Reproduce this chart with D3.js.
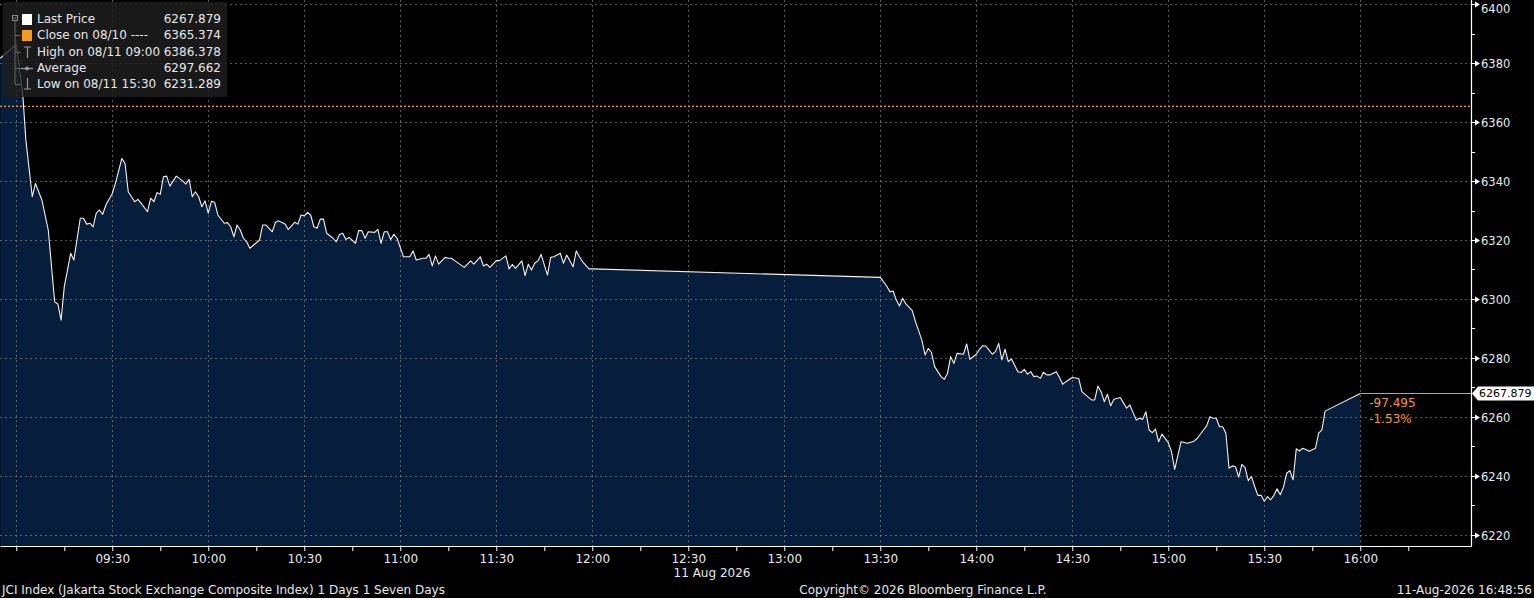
<!DOCTYPE html>
<html><head><meta charset="utf-8">
<script src="https://cdn.jsdelivr.net/npm/d3@7"></script>
<style>html,body{margin:0;padding:0;background:#000;overflow:hidden}svg{display:block}text{font-family:"DejaVu Sans",Verdana,sans-serif}</style>
</head><body>
<svg id="chart" width="1534" height="598"></svg>
<script>
// ---------- DATA ----------
const times = ["08:55","09:00","09:02","09:03","09:05","09:06","09:08","09:10","09:12","09:13","09:14","09:15","09:17","09:18",
"09:20","09:21","09:22","09:23","09:24","09:25","09:26","09:27","09:28","09:30","09:31","09:33","09:34","09:35","09:37","09:38","09:39",
"09:41","09:42","09:43","09:44","09:45","09:46","09:47","09:48","09:50","09:52","09:53","09:54","09:55","09:56","09:57","09:58","09:59",
"10:00","10:01","10:02","10:03","10:05","10:06","10:07","10:08","10:09","10:10","10:11","10:12","10:13","10:16","10:17","10:18","10:20",
"10:21","10:22","10:24","10:25","10:27","10:28","10:29","10:30","10:31","10:32","10:33","10:34","10:35","10:36","10:37","10:39","10:40",
"10:41","10:42","10:43","10:44","10:46","10:47","10:48","10:49","10:50","10:52","10:53","10:54","10:55","10:56","10:57","10:58","10:59",
"11:01","11:03","11:04","11:05","11:07","11:08","11:09","11:10","11:11","11:12","11:14","11:15","11:16","11:17","11:20","11:21","11:22",
"11:23","11:25","11:26","11:27","11:28","11:30","11:31","11:33","11:34","11:35","11:36","11:38","11:39","11:40","11:41","11:42","11:43",
"11:44","11:46","11:47","11:48","11:50","11:51","11:52","11:53","11:54","11:55","11:56","11:57","11:59","12:00",
"13:30","13:32","13:33","13:34","13:35","13:36","13:37","13:38","13:40","13:41","13:43","13:44","13:45","13:46","13:47","13:48","13:49",
"13:50","13:51","13:52","13:53","13:54","13:56","13:57","13:58","14:00","14:01","14:02","14:03","14:04","14:05","14:06","14:07","14:08",
"14:09","14:10","14:11","14:13","14:14","14:15","14:16","14:17","14:18","14:19","14:20","14:21","14:22","14:23","14:25","14:26","14:27",
"14:28","14:30","14:32","14:33","14:34","14:36","14:37","14:38","14:39","14:40","14:41","14:42","14:43","14:45","14:46","14:47","14:48",
"14:49","14:50","14:51","14:52","14:53","14:54","14:55","14:56","14:57","14:58","15:00","15:01","15:02","15:04","15:06","15:08","15:09",
"15:11","15:12","15:13","15:14","15:15","15:16","15:17","15:18","15:19","15:20","15:21","15:22","15:23","15:24","15:25","15:26","15:27",
"15:28","15:29","15:30","15:31","15:32","15:33","15:34","15:35","15:36","15:37","15:38","15:39","15:40","15:41","15:42","15:43","15:44",
"15:46","15:47","15:48","15:49","16:00"];
const prices = [6381.7,6386.378,6369.9,6354.0,6334.7,6339.2,6333.6,6323.4,6299.0,6298.3,6292.8,6304.1,6315.5,6313.2,
6327.4,6327.4,6325.4,6325.7,6324.5,6329.1,6330.2,6328.7,6331.9,6335.8,6339.3,6347.7,6346.0,6336.4,6333.0,6333.8,6332.5,
6329.6,6334.2,6333.0,6336.1,6335.5,6341.5,6341.7,6338.3,6341.7,6340.1,6339.0,6340.6,6334.7,6336.4,6334.7,6331.3,6333.3,
6329.1,6333.2,6332.8,6328.5,6325.7,6325.9,6324.5,6321.1,6325.1,6323.4,6320.6,6319.4,6317.2,6320.0,6325.1,6325.1,6322.8,
6326.0,6326.5,6325.4,6323.6,6326.0,6325.4,6328.5,6328.2,6329.4,6328.5,6324.5,6324.0,6327.1,6327.1,6322.3,6320.6,6319.4,
6321.9,6322.3,6320.2,6320.9,6318.9,6323.2,6323.2,6320.6,6322.8,6322.6,6323.6,6318.9,6322.8,6322.8,6320.2,6321.9,6320.6,
6314.3,6314.3,6316.3,6313.2,6313.8,6313.8,6315.1,6311.2,6314.6,6311.8,6314.1,6313.8,6313.8,6313.0,6310.7,6311.8,6312.9,
6311.8,6314.3,6311.2,6311.8,6310.7,6313.0,6313.0,6314.6,6310.2,6311.7,6310.4,6312.9,6307.9,6311.8,6309.8,6312.1,6312.9,
6315.1,6308.1,6314.1,6314.3,6315.5,6312.1,6314.9,6313.0,6310.9,6316.3,6314.3,6312.6,6310.2,6310.2,
6307.3,6304.4,6302.4,6302.7,6299.6,6297.6,6300.2,6298.3,6296.0,6292.3,6286.0,6281.0,6283.2,6281.8,6277.0,6275.3,6273.6,
6272.7,6274.7,6280.4,6278.1,6281.5,6281.2,6284.7,6279.5,6281.2,6282.9,6284.1,6284.0,6282.6,6281.2,6282.1,6284.9,6279.3,
6282.9,6278.7,6279.6,6275.3,6275.0,6276.1,6274.4,6275.3,6273.6,6273.8,6273.0,6275.1,6274.2,6274.2,6275.3,6273.3,6271.0,
6271.9,6273.3,6273.0,6268.5,6267.6,6265.7,6265.7,6270.4,6268.5,6265.1,6267.6,6263.7,6265.9,6266.5,6264.7,6262.9,6264.0,
6261.4,6258.9,6259.5,6259.1,6261.7,6255.5,6254.6,6255.8,6251.5,6254.1,6251.2,6248.1,6242.1,6251.5,6251.0,6251.7,6252.6,
6255.5,6256.9,6260.0,6259.5,6259.5,6256.6,6256.6,6254.4,6242.5,6243.3,6243.0,6239.5,6243.8,6242.7,6238.3,6239.7,6236.3,
6233.3,6233.3,6231.289,6232.9,6231.8,6233.3,6235.5,6233.5,6236.1,6240.8,6241.7,6238.6,6249.1,6248.3,6249.3,6248.9,6248.3,
6249.3,6254.4,6255.5,6261.9,6267.879];
const closePrice = 6365.374;
const lastPrice = 6267.879;
const netChange = "-97.495";
const pctChange = "-1.53%";
const yMajorTicks = [6220,6240,6260,6280,6300,6320,6340,6360,6380,6400];
const yMinorTicks = [6230,6250,6270,6290,6310,6330,6350,6370,6390];
const xTickLabels = ["09:30","10:00","10:30","11:00","11:30","12:00","12:30","13:00","13:30","14:00","14:30","15:00","15:30","16:00"];
const legendLabels = ["Last Price","Close on 08/10 ----","High on 08/11 09:00","Average","Low on 08/11 15:30"];
const legendValues = ["6267.879","6365.374","6386.378","6297.662","6231.289"];
const dateLabel = "11 Aug 2026";
const footerLeft = "JCI Index (Jakarta Stock Exchange Composite Index) 1 Days 1 Seven Days";
const footerCenter = "Copyright\u00A9 2026 Bloomberg Finance L.P.";
const footerRight = "11-Aug-2026 16:48:56";

// ---------- LAYOUT ----------
const W = 1534, H = 598, plotR = 1471, plotB = 546;
const ORANGE = "#f59a23", AREA = "#061e3b", TXT = "#e8e8e8";
const day = (h, m, s = 0) => new Date(2026, 7, 11, h, m, s);
const parse = s => { const [h, m] = s.split(":").map(Number); return day(h, m); };
const data = times.map((t, i) => ({ t: parse(t), v: prices[i] }));

const x = d3.scaleTime().domain([day(8, 54, 55), day(16, 34, 36)]).range([0, plotR]);
const y = d3.scaleLinear().domain([6216.1, 6401.5]).range([plotB, 0]);

const svg = d3.select("#chart");
svg.append("rect").attr("width", W).attr("height", H).attr("fill", "#000");
svg.append("defs").append("clipPath").attr("id", "clip")
  .append("rect").attr("x", 0).attr("y", 0).attr("width", plotR).attr("height", plotB);

const plot = svg.append("g").attr("clip-path", "url(#clip)");

// area
plot.append("path").datum(data)
  .attr("fill", AREA)
  .attr("d", d3.area().x(d => x(d.t)).y0(plotB).y1(d => y(d.v)));

// grid
const grid = plot.append("g").attr("stroke", "#8a8a8a").attr("stroke-opacity", 0.65)
  .attr("stroke-width", 1).attr("stroke-dasharray", "2,3");
yMajorTicks.forEach(v => {
  grid.append("line").attr("x1", 0).attr("x2", plotR)
    .attr("y1", Math.round(y(v)) + 0.5).attr("y2", Math.round(y(v)) + 0.5);
});
d3.timeMinute.every(30).range(day(9, 0), day(16, 1)).forEach(t => {
  grid.append("line").attr("y1", 0).attr("y2", plotB)
    .attr("x1", Math.round(x(t)) + 0.5).attr("x2", Math.round(x(t)) + 0.5);
});

// close line
plot.append("line").attr("x1", 0).attr("x2", plotR)
  .attr("y1", y(closePrice)).attr("y2", y(closePrice))
  .attr("stroke", ORANGE).attr("stroke-width", 1.3).attr("stroke-dasharray", "2,2");

// price line
plot.append("path").datum(data)
  .attr("fill", "none").attr("stroke", "#f2f2f2").attr("stroke-width", 1.1)
  .attr("stroke-linejoin", "round")
  .attr("d", d3.line().x(d => x(d.t)).y(d => y(d.v)));

// last price horizontal line
const last = data[data.length - 1];
svg.append("line").attr("x1", x(last.t)).attr("x2", plotR)
  .attr("y1", y(lastPrice)).attr("y2", y(lastPrice))
  .attr("stroke", ORANGE).attr("stroke-width", 1.2);

svg.append("text").attr("x", x(last.t) + 9).attr("y", y(lastPrice) + 13)
  .attr("fill", ORANGE).attr("font-size", 12).text(netChange);
svg.append("text").attr("x", x(last.t) + 9).attr("y", y(lastPrice) + 29)
  .attr("fill", ORANGE).attr("font-size", 12).text(pctChange);

// x axis
const xTicks = d3.timeMinute.every(15).range(day(9, 0), day(16, 16));
const xAxis = d3.axisBottom(x).tickValues(xTicks).tickSize(5).tickSizeOuter(0).tickPadding(3)
  .tickFormat(d => { const s = d3.timeFormat("%H:%M")(d); return xTickLabels.includes(s) ? s : ""; });
const gx = svg.append("g").attr("transform", `translate(0,${plotB})`).call(xAxis);
gx.select(".domain").attr("stroke", "#fff").attr("stroke-width", 1.2);
gx.selectAll(".tick line").attr("stroke", "#fff");
gx.selectAll(".tick text").attr("fill", TXT).attr("font-size", 12)
  .attr("font-family", "DejaVu Sans, Verdana, sans-serif");

svg.append("text").attr("x", 712).attr("y", 577).attr("text-anchor", "middle")
  .attr("fill", TXT).attr("font-size", 12).text(dateLabel);

// y axis (right)
svg.append("line").attr("x1", plotR + 0.5).attr("x2", plotR + 0.5).attr("y1", 0).attr("y2", plotB + 0.5)
  .attr("stroke", "#fff").attr("stroke-width", 1.2);
yMinorTicks.forEach(v => {
  svg.append("line").attr("x1", plotR).attr("x2", plotR + 4)
    .attr("y1", Math.round(y(v)) + 0.5).attr("y2", Math.round(y(v)) + 0.5).attr("stroke", "#fff");
});
yMajorTicks.forEach(v => {
  const yy = Math.round(y(v)) + 0.5;
  svg.append("path").attr("fill", "#fff")
    .attr("d", `M${plotR},${yy - 0.6}L${plotR + 4},${yy - 0.6}L${plotR + 4},${yy - 3}L${plotR + 9},${yy}L${plotR + 4},${yy + 3}L${plotR + 4},${yy + 0.6}L${plotR},${yy + 0.6}Z`);
  svg.append("text").attr("x", plotR + 10).attr("y", Math.max(yy, 9)).attr("dy", "0.36em")
    .attr("fill", TXT).attr("font-size", 11.5).text(v);
});

// last price tag
const ly = y(lastPrice);
svg.append("path").attr("fill", "#fff")
  .attr("d", `M${plotR + 1},${ly}L${plotR + 7},${ly - 7}L${W},${ly - 7}L${W},${ly + 7}L${plotR + 7},${ly + 7}Z`);
svg.append("text").attr("x", plotR + 8).attr("y", ly).attr("dy", "0.36em")
  .attr("fill", "#000").attr("font-size", 11).text(lastPrice.toFixed(3));

// legend
const lg = svg.append("g");
lg.append("rect").attr("x", 3).attr("y", 2).attr("width", 224).attr("height", 95).attr("rx", 2)
  .attr("fill", "rgb(30,30,30)").attr("fill-opacity", 0.82);
const rowY = [19, 35, 52, 68, 84];
// tree
lg.append("rect").attr("x", 12.5).attr("y", 15.5).attr("width", 5).attr("height", 5)
  .attr("fill", "none").attr("stroke", "#8a8a8a");
lg.append("line").attr("x1", 13.5).attr("x2", 16.5).attr("y1", 18).attr("y2", 18).attr("stroke", "#8a8a8a");
lg.append("line").attr("x1", 15).attr("x2", 15).attr("y1", 21).attr("y2", rowY[4]).attr("stroke", "#666");
rowY.slice(1).forEach(r => lg.append("line").attr("x1", 15).attr("x2", 21).attr("y1", r + 0.5).attr("y2", r + 0.5).attr("stroke", "#666"));
// icons
lg.append("rect").attr("x", 22).attr("y", rowY[0] - 5).attr("width", 10).attr("height", 11).attr("fill", "#fff");
lg.append("rect").attr("x", 22).attr("y", rowY[1] - 5).attr("width", 10).attr("height", 11).attr("fill", ORANGE);
lg.append("path").attr("stroke", "#9a9a9a").attr("fill", "none").attr("stroke-width", 1.2)
  .attr("d", `M24,${rowY[2] - 5}H31M27.5,${rowY[2] - 5}V${rowY[2] + 6}`);
lg.append("path").attr("stroke", "#9a9a9a").attr("fill", "none").attr("stroke-width", 1.2)
  .attr("d", `M21,${rowY[3] + 0.5}H33`);
lg.append("circle").attr("cx", 27).attr("cy", rowY[3] + 0.5).attr("r", 2).attr("fill", "#9a9a9a");
lg.append("path").attr("stroke", "#9a9a9a").attr("fill", "none").attr("stroke-width", 1.2)
  .attr("d", `M27.5,${rowY[4] - 6}V${rowY[4] + 5}M24,${rowY[4] + 5}H31`);
legendLabels.forEach((l, i) => {
  lg.append("text").attr("x", 37).attr("y", rowY[i]).attr("dy", "0.36em")
    .attr("fill", TXT).attr("font-size", 12).text(l);
  lg.append("text").attr("x", 221).attr("y", rowY[i]).attr("dy", "0.36em").attr("text-anchor", "end")
    .attr("fill", TXT).attr("font-size", 12).text(legendValues[i]);
});

// footer
svg.append("text").attr("x", 2).attr("y", 594).attr("fill", TXT).attr("font-size", 12).text(footerLeft);
svg.append("text").attr("x", 923).attr("y", 594).attr("text-anchor", "middle").attr("fill", TXT).attr("font-size", 12).text(footerCenter);
svg.append("text").attr("x", 1532).attr("y", 594).attr("text-anchor", "end").attr("fill", TXT).attr("font-size", 12).text(footerRight);
</script>
</body></html>
